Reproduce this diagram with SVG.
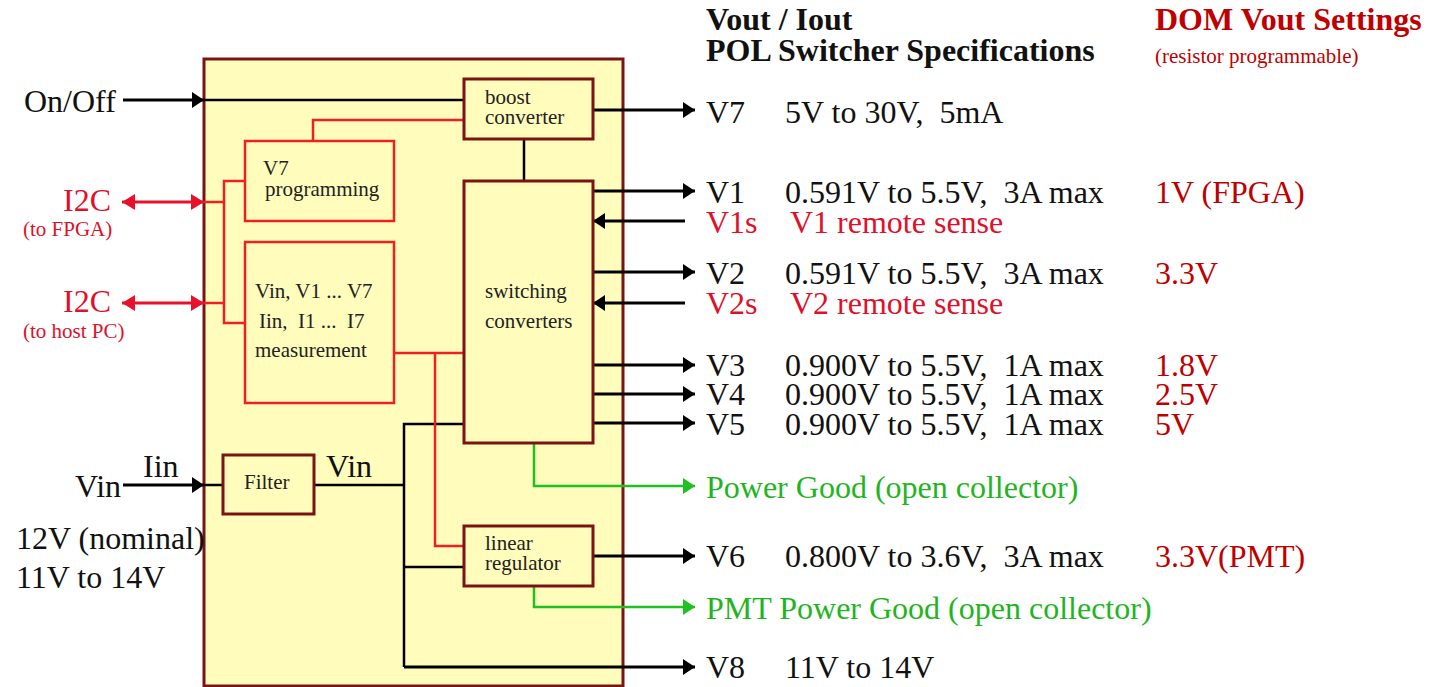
<svg xmlns="http://www.w3.org/2000/svg" width="1449" height="687" viewBox="0 0 1449 687">
<style>
text{font-family:"Liberation Serif","Times New Roman",serif;white-space:pre}
.big{font-size:32px}
.box{font-size:21px;fill:#222}
.sm{font-size:21px}
.hdr{font-size:32px;font-weight:bold}
.red{fill:#e0102a}
.dred{fill:#c00000}
.grn{fill:#1fb51f}
.blk{fill:#111}
.blkbox{fill:#fffcbc;stroke:#7a1414;stroke-width:3}
.redbox{fill:#fffcbc;stroke:#f02020;stroke-width:2.5}
.bl{stroke:#000;stroke-width:3;fill:none}
.bli{stroke:#000;stroke-width:2.5;fill:none}
.rl{stroke:#f02020;stroke-width:2.5;fill:none}
.rle{stroke:#e8102a;stroke-width:3;fill:none}
.gl{stroke:#1fc01f;stroke-width:2.5;fill:none}
</style>
<defs>
<marker id="ab" markerUnits="userSpaceOnUse" markerWidth="12" markerHeight="16" refX="12" refY="8" orient="auto"><path d="M0,0 L12,8 L0,16 z" fill="#000"/></marker>
<marker id="ag" markerUnits="userSpaceOnUse" markerWidth="12" markerHeight="16" refX="12" refY="8" orient="auto"><path d="M0,0 L12,8 L0,16 z" fill="#1fc01f"/></marker>
<marker id="ar" markerUnits="userSpaceOnUse" markerWidth="13" markerHeight="16" refX="13" refY="8" orient="auto-start-reverse"><path d="M0,0 L13,8 L0,16 z" fill="#e8102a"/></marker>
</defs>

<g id="outer"><rect x="204" y="59" width="419" height="627" fill="#fffcbc" stroke="#7a1414" stroke-width="3"/></g>

<g id="connectors">
<line class="bl" x1="123" y1="100" x2="204" y2="100" marker-end="url(#ab)"/>
<line class="bl" x1="123" y1="485" x2="204" y2="485" marker-end="url(#ab)"/>
<line class="rle" x1="122" y1="202" x2="204" y2="202" marker-start="url(#ar)" marker-end="url(#ar)"/>
<line class="rle" x1="122" y1="303" x2="204" y2="303" marker-start="url(#ar)" marker-end="url(#ar)"/>
<line class="bli" x1="204" y1="100" x2="464" y2="100"/>
<line class="bli" x1="524" y1="139" x2="524" y2="181"/>
<line class="bli" x1="204" y1="485" x2="223" y2="485"/>
<path class="bli" d="M314,485 H404 M464,424 H404 V667 M404,567 H464"/>
<path class="rl" d="M204,202 H224 M204,303 H224 M245,181 H224 V323 H245"/>
<path class="rl" d="M464,120 H313 V141"/>
<path class="rl" d="M394,353 H464 M435,353 V546 H464"/>
<line class="bl" x1="593" y1="110" x2="695" y2="110" marker-end="url(#ab)"/>
<line class="bl" x1="593" y1="191" x2="695" y2="191" marker-end="url(#ab)"/>
<line class="bl" x1="685" y1="221" x2="593" y2="221" marker-end="url(#ab)"/>
<line class="bl" x1="593" y1="272" x2="695" y2="272" marker-end="url(#ab)"/>
<line class="bl" x1="685" y1="303" x2="593" y2="303" marker-end="url(#ab)"/>
<line class="bl" x1="593" y1="365" x2="695" y2="365" marker-end="url(#ab)"/>
<line class="bl" x1="593" y1="394" x2="695" y2="394" marker-end="url(#ab)"/>
<line class="bl" x1="593" y1="423" x2="695" y2="423" marker-end="url(#ab)"/>
<path class="gl" d="M534,443 V486 H695" marker-end="url(#ag)"/>
<line class="bl" x1="593" y1="556" x2="695" y2="556" marker-end="url(#ab)"/>
<path class="gl" d="M534,586 V607 H695" marker-end="url(#ag)"/>
<line class="bl" x1="404" y1="667" x2="695" y2="667" marker-end="url(#ab)"/>
</g>

<g id="boost"><rect class="blkbox" x="464" y="79" width="129" height="60"/>
<text class="box" x="485" y="104">boost</text><text class="box" x="485" y="124">converter</text></g>
<g id="v7prog"><rect class="redbox" x="245" y="141" width="149" height="80"/>
<text class="box" x="263" y="175">V7</text><text class="box" x="265" y="196">programming</text></g>
<g id="meas"><rect class="redbox" x="245" y="242" width="149" height="161"/>
<text class="box" x="255" y="298">Vin, V1 ... V7</text><text class="box" x="259" y="328">Iin,  I1 ...  I7</text><text class="box" x="255" y="357">measurement</text></g>
<g id="switching"><rect class="blkbox" x="464" y="181" width="129" height="262"/>
<text class="box" x="485" y="298">switching</text><text class="box" x="485" y="328">converters</text></g>
<g id="linreg"><rect class="blkbox" x="464" y="526" width="129" height="60"/>
<text class="box" x="485" y="550">linear</text><text class="box" x="485" y="570">regulator</text></g>
<g id="filter"><rect class="blkbox" x="223" y="455" width="91" height="59"/>
<text class="box" x="244" y="489">Filter</text></g>

<g id="left-labels">
<text class="big blk" x="24" y="112">On/Off</text>
<text class="big red" x="63" y="211">I2C</text>
<text class="sm red" x="23" y="236">(to FPGA)</text>
<text class="big red" x="63" y="312">I2C</text>
<text class="sm red" x="23" y="338">(to host PC)</text>
<text class="big blk" x="75" y="497">Vin</text>
<text class="big blk" x="143" y="477">Iin</text>
<text class="big blk" x="326" y="477">Vin</text>
<text class="big blk" x="16" y="549">12V (nominal)</text>
<text class="big blk" x="16" y="588">11V to 14V</text>
</g>

<g id="right-labels">
<text class="hdr blk" x="706" y="30">Vout / Iout</text>
<text class="hdr blk" x="706" y="61">POL Switcher Specifications</text>
<text class="hdr dred" x="1155" y="30">DOM Vout Settings</text>
<text class="sm dred" x="1155" y="63">(resistor programmable)</text>
<text class="big blk" x="706" y="123">V7</text><text class="big blk" x="785" y="123">5V to 30V,  5mA</text>
<text class="big blk" x="706" y="203">V1</text><text class="big blk" x="785" y="203">0.591V to 5.5V,  3A max</text><text class="big dred" x="1155" y="203">1V (FPGA)</text>
<text class="big red" x="706" y="233">V1s</text><text class="big red" x="790" y="233">V1 remote sense</text>
<text class="big blk" x="706" y="284">V2</text><text class="big blk" x="785" y="284">0.591V to 5.5V,  3A max</text><text class="big dred" x="1155" y="284">3.3V</text>
<text class="big red" x="706" y="314">V2s</text><text class="big red" x="790" y="314">V2 remote sense</text>
<text class="big blk" x="706" y="376">V3</text><text class="big blk" x="785" y="376">0.900V to 5.5V,  1A max</text><text class="big dred" x="1155" y="376">1.8V</text>
<text class="big blk" x="706" y="405">V4</text><text class="big blk" x="785" y="405">0.900V to 5.5V,  1A max</text><text class="big dred" x="1155" y="405">2.5V</text>
<text class="big blk" x="706" y="435">V5</text><text class="big blk" x="785" y="435">0.900V to 5.5V,  1A max</text><text class="big dred" x="1155" y="435">5V</text>
<text class="big grn" x="706" y="498">Power Good (open collector)</text>
<text class="big blk" x="706" y="567">V6</text><text class="big blk" x="785" y="567">0.800V to 3.6V,  3A max</text><text class="big dred" x="1155" y="567">3.3V(PMT)</text>
<text class="big grn" x="706" y="619">PMT Power Good (open collector)</text>
<text class="big blk" x="706" y="678">V8</text><text class="big blk" x="785" y="678">11V to 14V</text>
</g>
</svg>
